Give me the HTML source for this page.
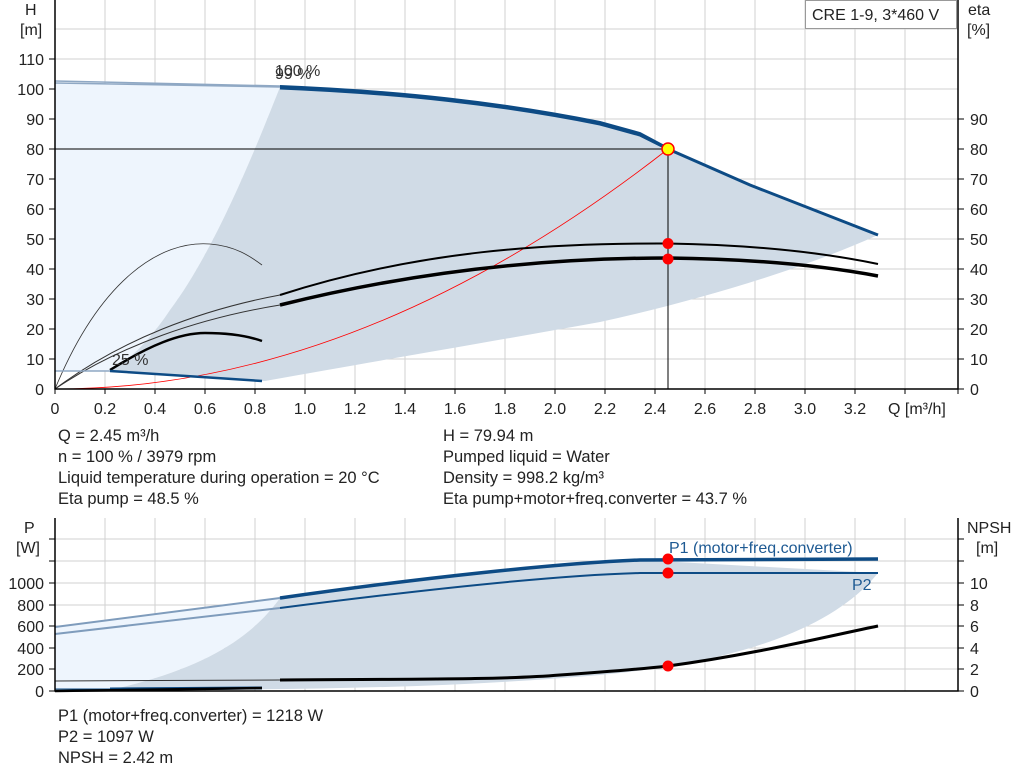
<!DOCTYPE html>
<html><head><meta charset="utf-8"><style>
body{margin:0;background:#fff}
svg{display:block;font-family:"Liberation Sans",sans-serif}
</style></head><body>
<svg width="1024" height="781" viewBox="0 0 1024 781">
<!-- TOP CHART -->
<g stroke="#d2d2d2" stroke-width="1">
<path d="M105 0V389M155 0V389M205 0V389M255 0V389M305 0V389M355 0V389M405 0V389M455 0V389M505 0V389M555 0V389M605 0V389M655 0V389M705 0V389M755 0V389M805 0V389M855 0V389M905 0V389"/>
<path d="M55 29H958M55 59H958M55 89H958M55 119H958M55 179H958M55 209H958M55 239H958M55 269H958M55 299H958M55 329H958M55 359H958"/>
</g>
<path d="M55 83 L280 87 C255 150 215 250 170 310 C150 340 130 360 110 371 L55 371 Z" fill="#eef5fd"/>
<path d="M280 87 C400 93 500 104 600 124 L640 135 L668 149 L750 185 L878 235 C800 270 700 300 600 322 C500 340 400 357 265 381 L110 371 C130 360 150 340 170 310 C215 250 255 150 280 87 Z" fill="#d0dbe6"/>
<path d="M55 149H668V389" stroke="#000" stroke-width="1" fill="none"/>
<path d="M55 389 Q361 389 668 149" stroke="#f00" stroke-width="0.8" fill="none"/>
<path d="M55 81 L280 86 M55 83 L280 87" stroke="#8fa8c4" stroke-width="1.5" fill="none"/>
<path d="M280 86 C400 91 500 102 600 122 L640 133 L668 148" stroke="#0d4b85" stroke-width="2" fill="none"/>
<path d="M280 88 C400 93 500 104 600 124 L640 135 L668 149 L750 185 L878 235" stroke="#0d4b85" stroke-width="3" fill="none"/>
<path d="M55 389 C120 340 200 310 280 295" stroke="#333" stroke-width="1" fill="none"/>
<path d="M280 295 C420 250 550 243 668 243.5 C760 245 830 254 878 264" stroke="#000" stroke-width="2" fill="none"/>
<path d="M55 389 C120 345 200 318 280 305" stroke="#333" stroke-width="1" fill="none"/>
<path d="M280 305 C420 270 550 258 668 258 C760 259 830 267 878 276" stroke="#000" stroke-width="3.5" fill="none"/>
<path d="M55 389 C100 280 160 240 210 244 C235 246 250 256 262 265" stroke="#333" stroke-width="0.8" fill="none"/>
<path d="M110 370 C150 345 180 333 205 333 C230 333 248 336 262 341" stroke="#000" stroke-width="2.5" fill="none"/>
<path d="M55 371 L110 371" stroke="#8fa8c4" stroke-width="1.5"/>
<path d="M110 371 L262 381" stroke="#0d4b85" stroke-width="2.5"/>
<circle cx="668" cy="243.5" r="5.5" fill="#f00"/>
<circle cx="668" cy="259" r="5.5" fill="#f00"/>
<circle cx="668" cy="149" r="6" fill="#ff0" stroke="#f00" stroke-width="1.5"/>
<text x="275" y="76" font-size="16" fill="#333">100 %</text>
<text x="275" y="79" font-size="16" fill="#333">99 %</text>
<text x="112" y="365" font-size="16" fill="#333">25 %</text>
<path d="M55 0V389H958V0" stroke="#000" stroke-width="1.5" fill="none"/>
<g stroke="#000" stroke-width="1">
<path d="M55 389v5M105 389v5M155 389v5M205 389v5M255 389v5M305 389v5M355 389v5M405 389v5M455 389v5M505 389v5M555 389v5M605 389v5M655 389v5M705 389v5M755 389v5M805 389v5M855 389v5M905 389v5M958 389v5"/>
<path d="M49 59h6M49 89h6M49 119h6M49 149h6M49 179h6M49 209h6M49 239h6M49 269h6M49 299h6M49 329h6M49 359h6"/>
<path d="M958 119h6M958 149h6M958 179h6M958 209h6M958 239h6M958 269h6M958 299h6M958 329h6M958 359h6M958 389h6"/>
</g>
<g font-size="16" fill="#222" text-anchor="end">
<text x="44" y="65">110</text><text x="44" y="95">100</text><text x="44" y="125">90</text><text x="44" y="155">80</text><text x="44" y="185">70</text><text x="44" y="215">60</text><text x="44" y="245">50</text><text x="44" y="275">40</text><text x="44" y="305">30</text><text x="44" y="335">20</text><text x="44" y="365">10</text><text x="44" y="395">0</text>
</g>
<g font-size="16" fill="#222">
<text x="970" y="125">90</text><text x="970" y="155">80</text><text x="970" y="185">70</text><text x="970" y="215">60</text><text x="970" y="245">50</text><text x="970" y="275">40</text><text x="970" y="305">30</text><text x="970" y="335">20</text><text x="970" y="365">10</text><text x="970" y="395">0</text>
<text x="25" y="15">H</text><text x="20" y="35">[m]</text>
<text x="968" y="15">eta</text><text x="967" y="35">[%]</text>
</g>
<g font-size="16" fill="#222" text-anchor="middle">
<text x="55" y="414">0</text><text x="105" y="414">0.2</text><text x="155" y="414">0.4</text><text x="205" y="414">0.6</text><text x="255" y="414">0.8</text><text x="305" y="414">1.0</text><text x="355" y="414">1.2</text><text x="405" y="414">1.4</text><text x="455" y="414">1.6</text><text x="505" y="414">1.8</text><text x="555" y="414">2.0</text><text x="605" y="414">2.2</text><text x="655" y="414">2.4</text><text x="705" y="414">2.6</text><text x="755" y="414">2.8</text><text x="805" y="414">3.0</text><text x="855" y="414">3.2</text>
</g>
<text x="888" y="414" font-size="16" fill="#222">Q [m³/h]</text>
<rect x="805.5" y="0.5" width="151" height="28" fill="#fff" stroke="#999"/>
<text x="812" y="20" font-size="16" fill="#222">CRE 1-9, 3*460 V</text>
<g font-size="16.5" fill="#222">
<text x="58" y="441">Q = 2.45 m³/h</text>
<text x="58" y="462">n = 100 % / 3979 rpm</text>
<text x="58" y="483">Liquid temperature during operation = 20 °C</text>
<text x="58" y="504">Eta pump = 48.5 %</text>
<text x="443" y="441">H = 79.94 m</text>
<text x="443" y="462">Pumped liquid = Water</text>
<text x="443" y="483">Density = 998.2 kg/m³</text>
<text x="443" y="504">Eta pump+motor+freq.converter = 43.7 %</text>
</g>
<!-- BOTTOM CHART -->
<g stroke="#d2d2d2" stroke-width="1">
<path d="M105 518V691M155 518V691M205 518V691M255 518V691M305 518V691M355 518V691M405 518V691M455 518V691M505 518V691M555 518V691M605 518V691M655 518V691M705 518V691M755 518V691M805 518V691M855 518V691M905 518V691"/>
<path d="M55 539H958M55 561H958M55 583H958M55 605H958M55 626H958M55 648H958M55 669H958"/>
</g>
<path d="M55 627 L280 598 C250 640 200 670 110 690 L55 690 Z" fill="#eef5fd"/>
<path d="M280 598 C420 578 560 563 640 560 L878 573 C840 620 760 660 600 675 C450 688 300 690 110 690 C200 670 250 640 280 598 Z" fill="#d0dbe6"/>
<path d="M55 627 L280 598 M55 634 L280 608" stroke="#7f9cbc" stroke-width="2" fill="none"/>
<path d="M280 598 C420 578 560 563 640 560 L878 559" stroke="#0d4b85" stroke-width="3.5" fill="none"/>
<path d="M280 608 C420 590 560 575 640 573 L878 573" stroke="#0d4b85" stroke-width="2" fill="none"/>
<path d="M55 681 L280 680" stroke="#333" stroke-width="1"/>
<path d="M280 680 C400 679 500 680 560 675 C620 671 650 668 668 666 C750 655 820 638 878 626" stroke="#000" stroke-width="3" fill="none"/>
<path d="M55 689 L110 689" stroke="#0d4b85" stroke-width="1"/>
<path d="M110 689 L262 688" stroke="#0d4b85" stroke-width="3"/>
<path d="M55 691 L262 688" stroke="#000" stroke-width="2.5"/>
<circle cx="668" cy="559" r="5.5" fill="#f00"/>
<circle cx="668" cy="573" r="5.5" fill="#f00"/>
<circle cx="668" cy="666" r="5.5" fill="#f00"/>
<text x="669" y="553" font-size="16" fill="#1e5a93">P1 (motor+freq.converter)</text>
<text x="852" y="590" font-size="16" fill="#1e5a93">P2</text>
<path d="M55 518V691H958V518" stroke="#000" stroke-width="1.5" fill="none"/>
<g stroke="#000" stroke-width="1">
<path d="M49 539h6M49 561h6M49 583h6M49 605h6M49 626h6M49 648h6M49 669h6M49 691h6"/>
<path d="M958 539h6M958 561h6M958 583h6M958 605h6M958 626h6M958 648h6M958 669h6M958 691h6"/>
</g>
<g font-size="16" fill="#222" text-anchor="end">
<text x="44" y="589">1000</text><text x="44" y="611">800</text><text x="44" y="632">600</text><text x="44" y="654">400</text><text x="44" y="675">200</text><text x="44" y="697">0</text>
</g>
<g font-size="16" fill="#222">
<text x="970" y="589">10</text><text x="970" y="611">8</text><text x="970" y="632">6</text><text x="970" y="654">4</text><text x="970" y="675">2</text><text x="970" y="697">0</text>
<text x="24" y="533">P</text><text x="16" y="553">[W]</text>
<text x="967" y="533">NPSH</text><text x="976" y="553">[m]</text>
</g>
<g font-size="16.5" fill="#222">
<text x="58" y="721">P1 (motor+freq.converter) = 1218 W</text>
<text x="58" y="742">P2 = 1097 W</text>
<text x="58" y="763">NPSH = 2.42 m</text>
</g>
</svg>
</body></html>
